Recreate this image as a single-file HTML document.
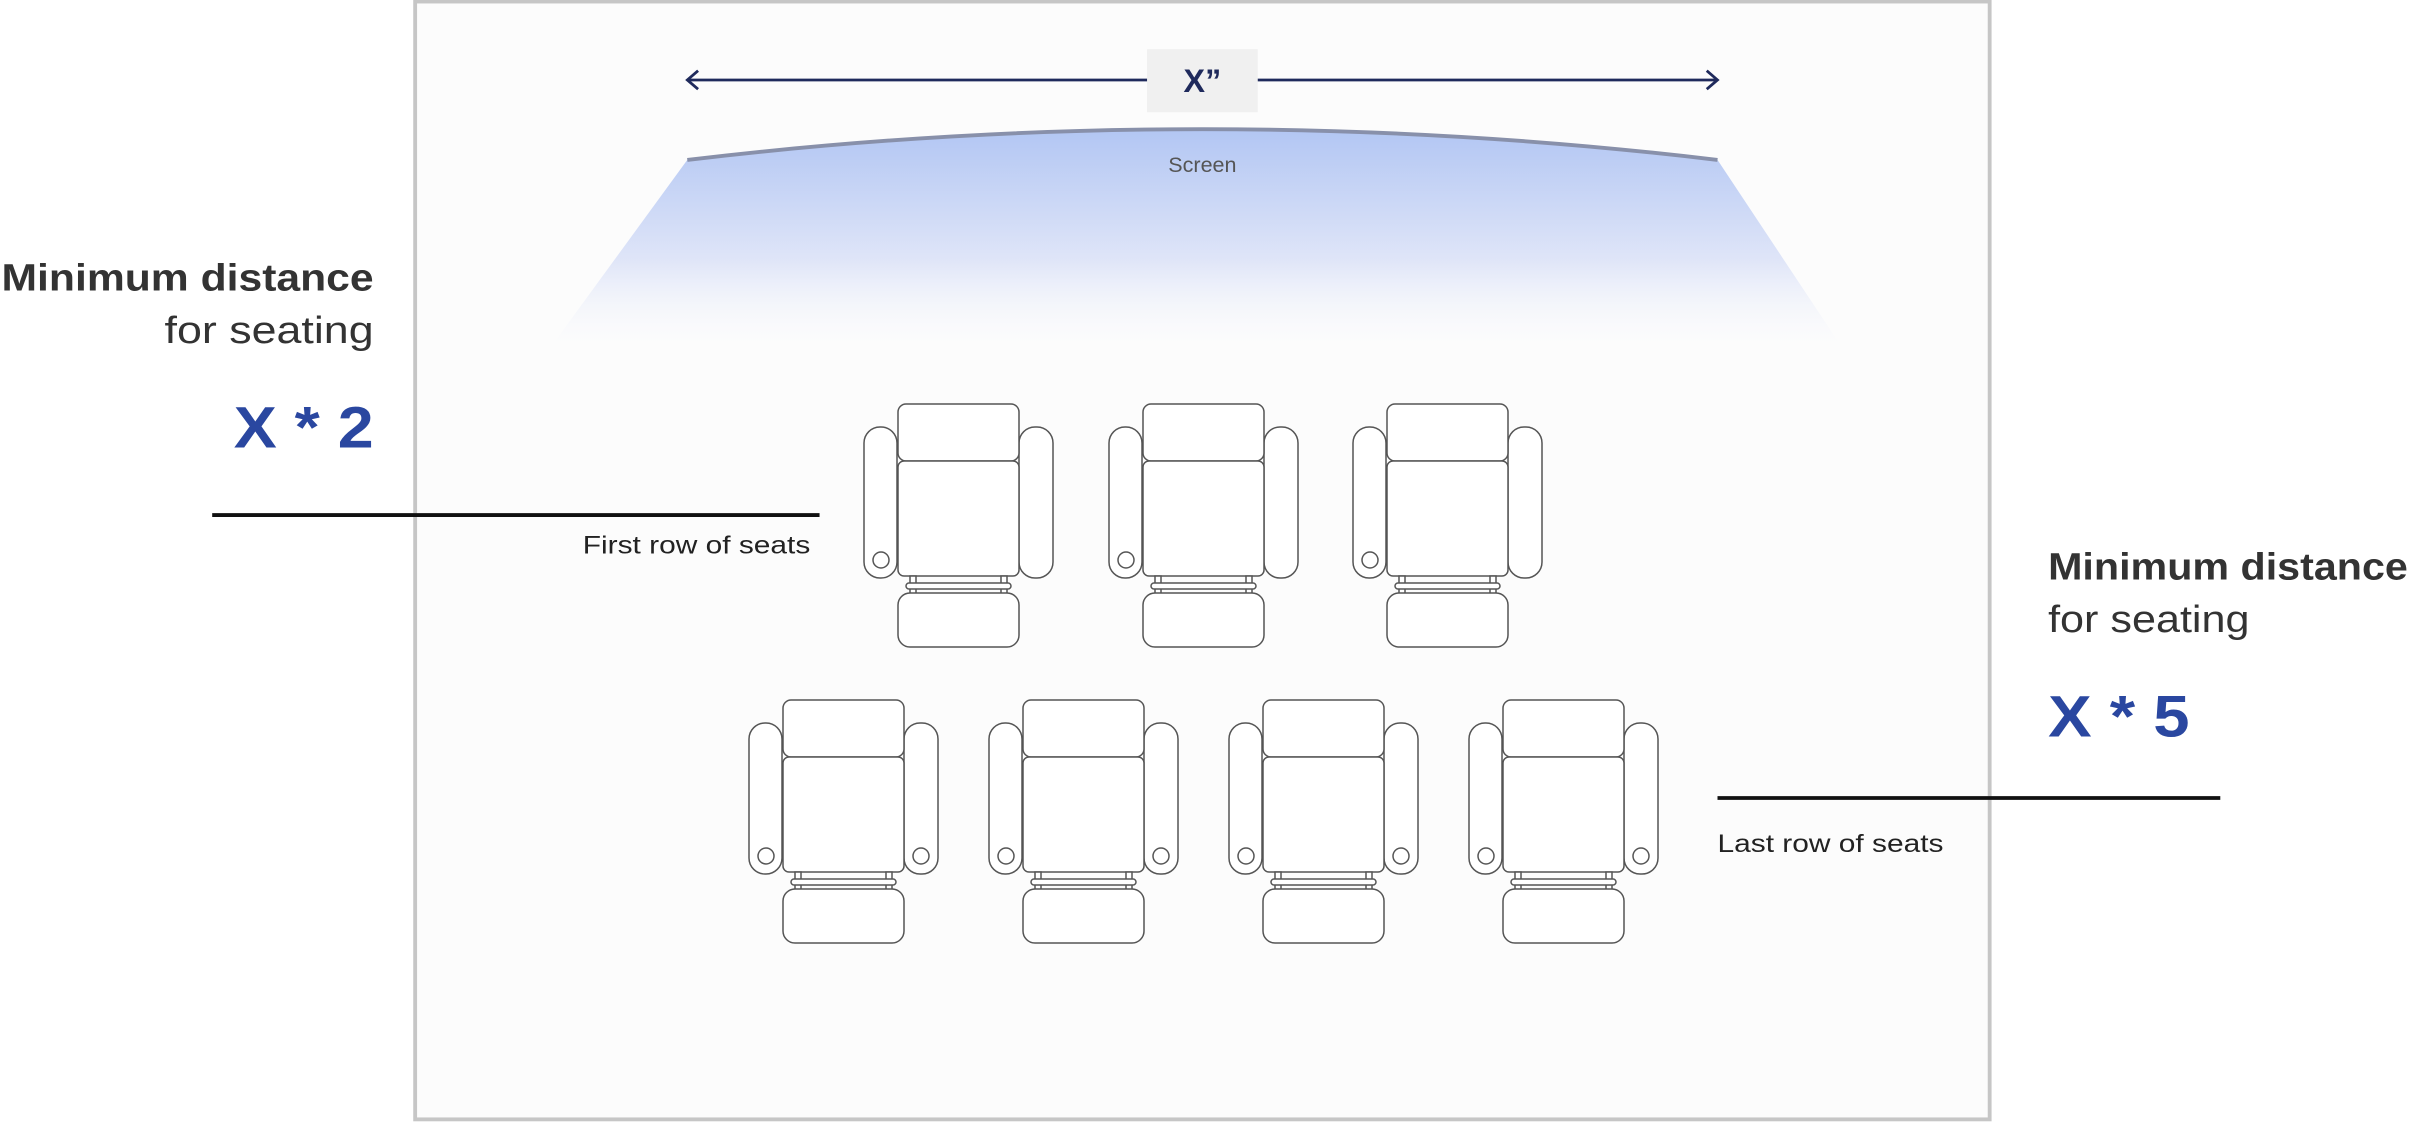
<!DOCTYPE html>
<html><head><meta charset="utf-8"><style>
html,body{margin:0;padding:0;background:#fff;}
svg{display:block;}
text{font-family:"Liberation Sans",sans-serif;}
</style></head><body>
<svg width="2411" height="1122" viewBox="0 0 2411 1122" xmlns="http://www.w3.org/2000/svg">
<defs>
<linearGradient id="g" x1="0" y1="0" x2="0" y2="1">
<stop offset="0" stop-color="#b2c6f3"/>
<stop offset="0.6" stop-color="#dfe5f8"/>
<stop offset="1" stop-color="#fcfcfc" stop-opacity="0.2"/>
</linearGradient>
<g id="chair" fill="#fff" stroke="#555" stroke-width="1.5">
<rect x="0" y="23" width="33" height="151" rx="16"/>
<rect x="155" y="23" width="34" height="151" rx="16"/>
<rect x="34" y="0" width="121" height="57" rx="8"/>
<rect x="34" y="57" width="121" height="115" rx="6"/>
<rect x="46" y="172" width="6" height="18"/>
<rect x="137" y="172" width="6" height="18"/>
<rect x="42" y="179" width="105" height="6" rx="3"/>
<rect x="34" y="189" width="121" height="54" rx="12"/>
<circle cx="17" cy="156" r="8"/>
</g>
<g id="chair2">
<use href="#chair"/>
<circle cx="172" cy="156" r="8" fill="#fff" stroke="#555" stroke-width="1.5"/>
</g>
</defs>
<g transform="scale(1.5376)">
<rect x="270" y="1" width="1024" height="727" fill="#fcfcfc" stroke="#c6c6c6" stroke-width="2.5"/>
<path d="M447 104 Q782 64 1117 104 L1198 226 L358 226 Z" fill="url(#g)"/>
<path d="M447 104 Q782 64 1117 104" fill="none" stroke="#8890aa" stroke-width="2.5"/>
<text x="782" y="112" font-size="14" fill="#555" text-anchor="middle">Screen</text>
<line x1="448" y1="52" x2="1116" y2="52" stroke="#1f2a5c" stroke-width="1.8"/>
<path d="M454 46 L447 52 L454 58" fill="none" stroke="#1f2a5c" stroke-width="1.8"/>
<path d="M1110 46 L1117 52 L1110 58" fill="none" stroke="#1f2a5c" stroke-width="1.8"/>
<rect x="746" y="32" width="72" height="41" fill="#f0f0f0"/>
<text x="782" y="60" font-size="21" font-weight="bold" fill="#1f2a5c" text-anchor="middle">X”</text>

<text x="1" y="189" font-size="25" font-weight="bold" fill="#333" textLength="242" lengthAdjust="spacingAndGlyphs">Minimum distance</text>
<text x="107" y="223" font-size="25" fill="#333" textLength="136" lengthAdjust="spacingAndGlyphs">for seating</text>
<text x="152" y="291" font-size="38" font-weight="bold" fill="#2a47a0" textLength="91" lengthAdjust="spacingAndGlyphs">X * 2</text>
<line x1="138" y1="335" x2="533" y2="335" stroke="#111" stroke-width="2.5"/>
<text x="379" y="360" font-size="16.5" fill="#222" textLength="148" lengthAdjust="spacingAndGlyphs">First row of seats</text>

<text x="1332" y="377" font-size="25" font-weight="bold" fill="#333" textLength="234" lengthAdjust="spacingAndGlyphs">Minimum distance</text>
<text x="1332" y="411" font-size="25" fill="#333" textLength="131" lengthAdjust="spacingAndGlyphs">for seating</text>
<text x="1332" y="479" font-size="38" font-weight="bold" fill="#2a47a0" textLength="92" lengthAdjust="spacingAndGlyphs">X * 5</text>
<line x1="1117" y1="519" x2="1444" y2="519" stroke="#111" stroke-width="2.5"/>
<text x="1117" y="554" font-size="16.5" fill="#222" textLength="147" lengthAdjust="spacingAndGlyphs">Last row of seats</text>
</g>
<use href="#chair" x="864" y="404"/>
<use href="#chair" x="1109" y="404"/>
<use href="#chair" x="1353" y="404"/>
<use href="#chair2" x="749" y="700"/>
<use href="#chair2" x="989" y="700"/>
<use href="#chair2" x="1229" y="700"/>
<use href="#chair2" x="1469" y="700"/>
</svg>
</body></html>
